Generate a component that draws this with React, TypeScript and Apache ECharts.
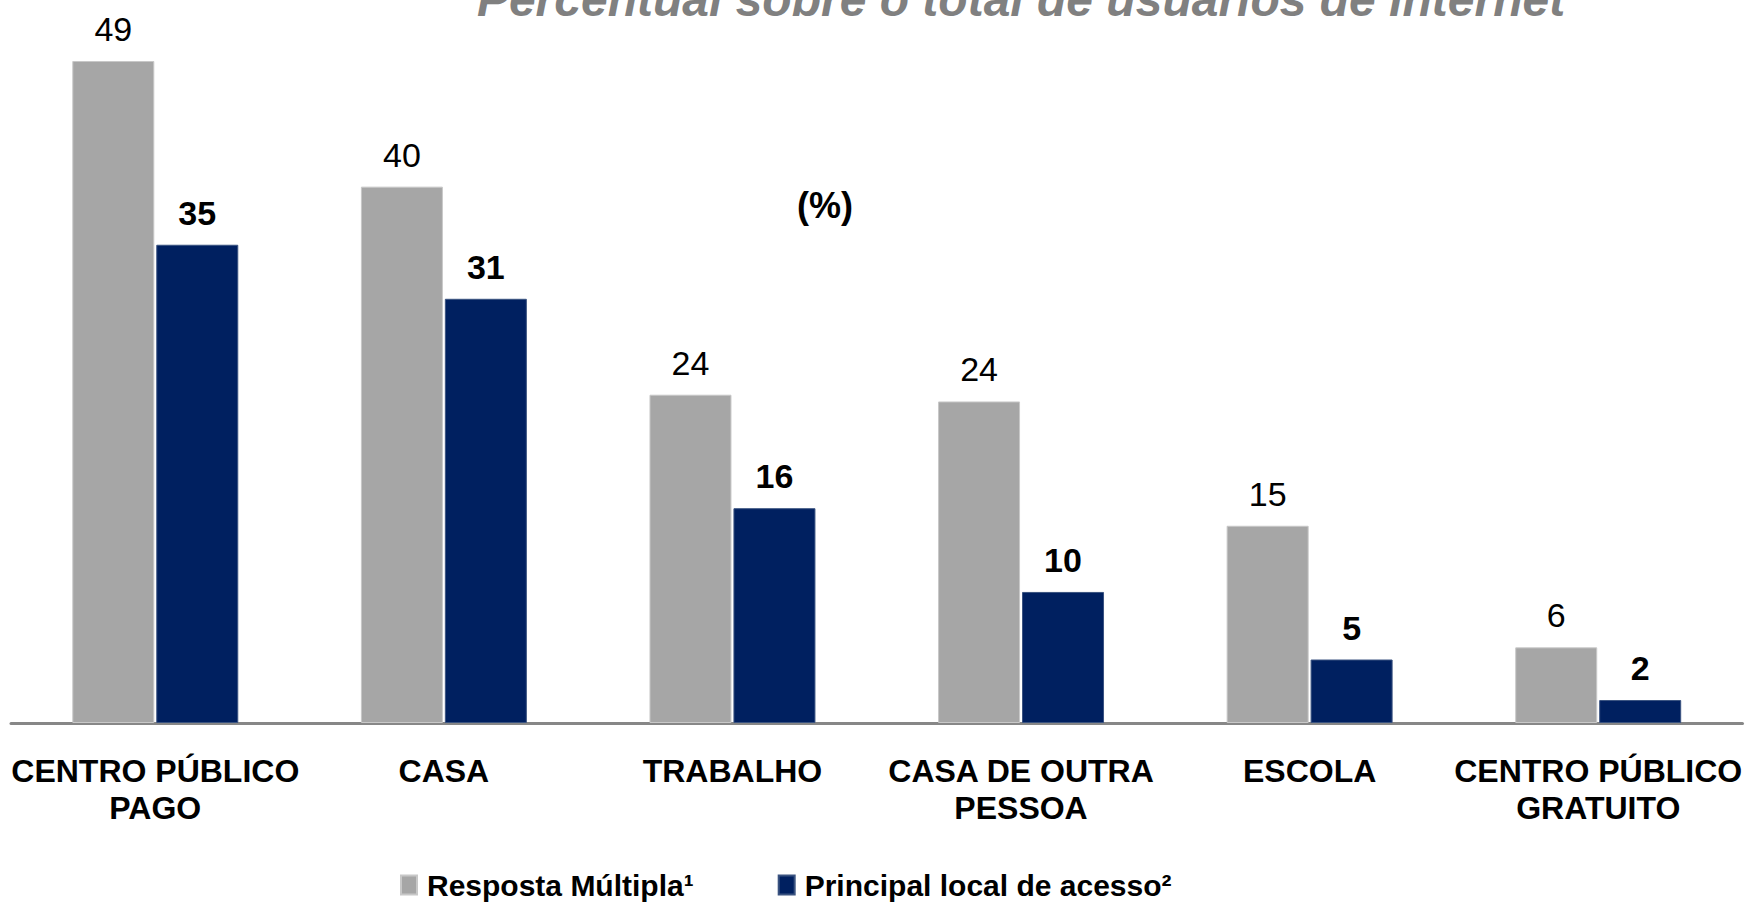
import React, { useEffect, useRef } from "react";
import * as echarts from "echarts";

const categories = [
  "CENTRO PÚBLICO\nPAGO",
  "CASA",
  "TRABALHO",
  "CASA DE OUTRA\nPESSOA",
  "ESCOLA",
  "CENTRO PÚBLICO\nGRATUITO",
];
const respostaMultipla = [49, 39.7, 24.3, 23.8, 14.6, 5.6];
const principalLocal = [35.4, 31.4, 15.9, 9.7, 4.7, 1.7];
const seriesNames = ["Resposta Múltipla¹", "Principal local de acesso²"];
const titleText = "Percentual sobre o total de usuários de Internet";
const unitText = "(%)";

const FONT = "'Liberation Sans', Arial, Helvetica, sans-serif";

export default function App() {
  const ref = useRef<HTMLDivElement>(null);
  useEffect(() => {
    document.body.style.margin = "0";
    const chart = echarts.init(ref.current!, null, { renderer: "svg" });
    chart.setOption({
      animation: false,
      backgroundColor: "#ffffff",
      textStyle: { fontFamily: FONT },
      grid: { left: 11, right: 0, top: 47.5, bottom: 179, containLabel: false },
      legend: {
        left: 400,
        top: 870,
        padding: 0,
        itemWidth: 16,
        itemHeight: 19,
        itemGap: 84,
        icon: "rect",
        textStyle: {
          fontFamily: FONT,
          fontSize: 30,
          lineHeight: 30,
          fontWeight: "bold",
          color: "#000",
          padding: [0, 0, 0, 5],
        },
        data: seriesNames,
      },
      xAxis: {
        type: "category",
        data: categories,
        axisLine: { show: true, lineStyle: { color: "#878787", width: 3 } },
        axisTick: { show: false },
        axisLabel: {
          interval: 0,
          margin: 29,
          fontFamily: FONT,
          fontSize: 32,
          fontWeight: "bold",
          lineHeight: 37,
          color: "#000",
          align: "center",
        },
      },
      yAxis: {
        type: "value",
        min: 0,
        max: 50,
        show: false,
        splitLine: { show: false },
      },
      graphic: [
        {
          type: "text",
          x: 1021,
          y: 23.5,
          style: {
            text: titleText,
            align: "center",
            verticalAlign: "bottom",
            fontFamily: FONT,
            fontSize: 48,
            lineHeight: 48,
            fontWeight: "bold",
            fontStyle: "italic",
            fill: "#808080",
          },
        },
        {
          type: "text",
          x: 825,
          y: 205,
          style: {
            text: unitText,
            align: "center",
            verticalAlign: "middle",
            fontFamily: FONT,
            fontSize: 36,
            fontWeight: "bold",
            fill: "#000",
          },
        },
      ],
      series: [
        {
          name: seriesNames[0],
          type: "bar",
          data: respostaMultipla,
          barWidth: 82,
          barGap: "2.4%",
          itemStyle: { color: "#A6A6A6", borderColor: "#C8C8C8", borderWidth: 1 },
          label: {
            show: true,
            position: "top",
            distance: 15,
            fontFamily: FONT,
            fontSize: 34,
            lineHeight: 34,
            color: "#000",
            formatter: (p: any) => String(Math.round(p.value)),
          },
        },
        {
          name: seriesNames[1],
          type: "bar",
          data: principalLocal,
          barWidth: 82,
          itemStyle: { color: "#002060", borderColor: "#3A5380", borderWidth: 1 },
          label: {
            show: true,
            position: "top",
            distance: 15,
            fontFamily: FONT,
            fontSize: 34,
            lineHeight: 34,
            fontWeight: "bold",
            color: "#000",
            formatter: (p: any) => String(Math.round(p.value)),
          },
        },
      ],
    });
    return () => chart.dispose();
  }, []);
  return (
    <div
      ref={ref}
      style={{ position: "absolute", left: 0, top: 0, width: 1745, height: 902 }}
    />
  );
}
